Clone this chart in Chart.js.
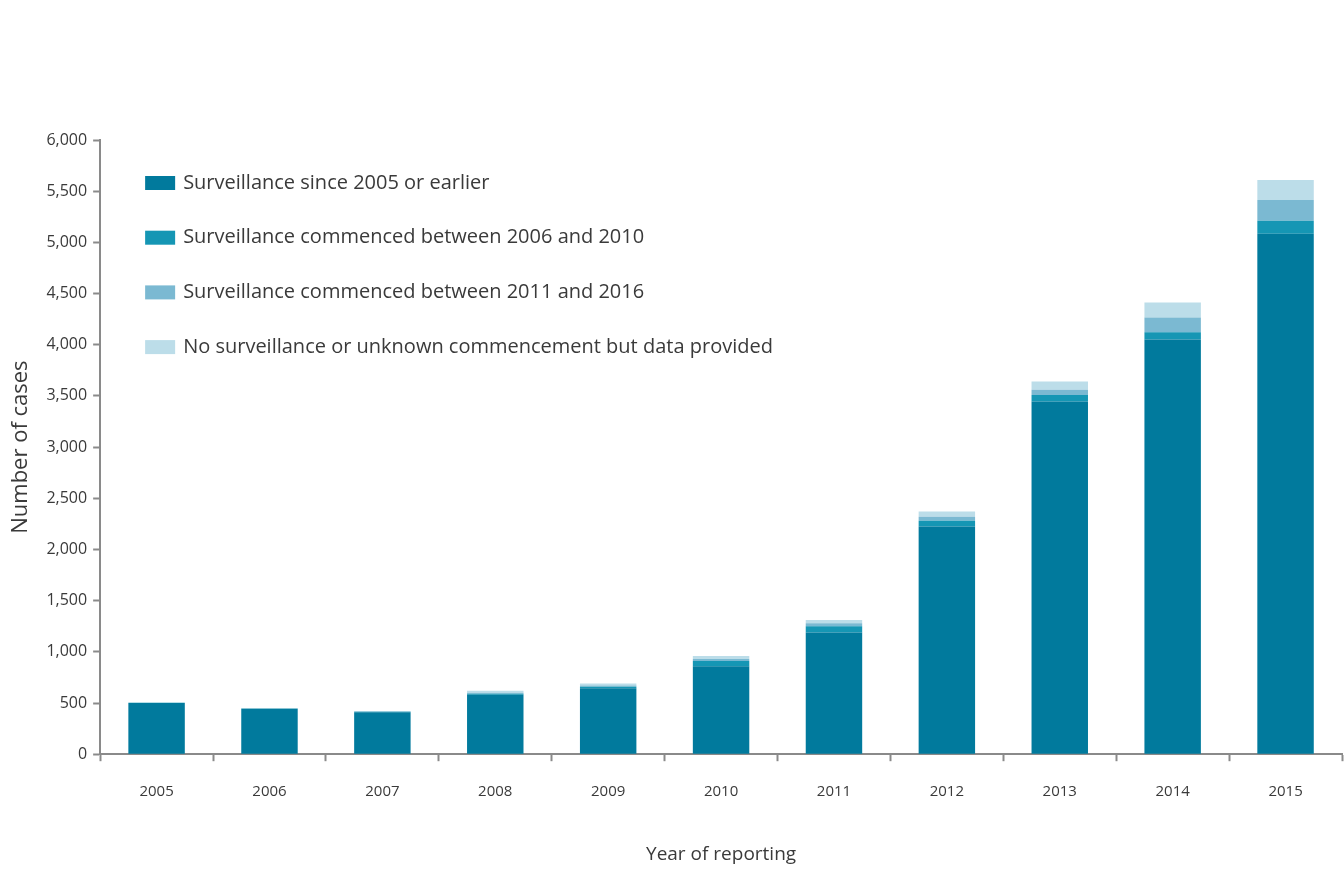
<!DOCTYPE html>
<html>
<head>
<meta charset="utf-8">
<script src="https://cdn.jsdelivr.net/npm/chart.js@4.4.0/dist/chart.umd.min.js"></script>
<style>
  html, body { margin: 0; padding: 0; background: #fff; }
  #wrap { width: 1344px; height: 873px; }
</style>
</head>
<body>
<div id="wrap"><canvas id="chart"></canvas></div>
<script>
const years = ['2005', '2006', '2007', '2008', '2009', '2010', '2011', '2012', '2013', '2014', '2015'];
const since2005 = [500, 445, 410, 580, 645, 860, 1190, 2225, 3445, 4050, 5085];
const from2006to2010 = [3, 2, 5, 10, 15, 50, 60, 55, 65, 72, 125];
const from2011to2016 = [0, 0, 2, 10, 10, 20, 30, 40, 50, 145, 205];
const noSurveillance = [3, 3, 5, 20, 20, 30, 30, 50, 80, 145, 195];
const yTicks = [0, 500, 1000, 1500, 2000, 2500, 3000, 3500, 4000, 4500, 5000, 5500, 6000];

const axisGrey = '#8a8a8a';
const textGrey = '#3a3a3a';
const fontFamily = "'Open Sans', 'DejaVu Sans', sans-serif";

// legend drawn inside the plot, top left, one entry per row
const insideLegend = {
    id: 'insideLegend',
    afterDraw(chart) {
        const ctx = chart.ctx;
        const area = chart.chartArea;
        ctx.save();
        ctx.font = '20px ' + fontFamily;
        ctx.textBaseline = 'middle';
        ctx.textAlign = 'left';
        chart.data.datasets.forEach((ds, i) => {
            const y = area.top + 43 + i * 54.7;
            ctx.fillStyle = ds.backgroundColor;
            ctx.fillRect(area.left + 45, y - 7, 30, 14);
            ctx.fillStyle = textGrey;
            ctx.fillText(ds.label, area.left + 83, y);
        });
        ctx.restore();
    }
};

new Chart(document.getElementById('chart'), {
    type: 'bar',
    data: {
        labels: years,
        datasets: [
            { label: 'Surveillance since 2005 or earlier', data: since2005, backgroundColor: '#017a9d' },
            { label: 'Surveillance commenced between 2006 and 2010', data: from2006to2010, backgroundColor: '#1596b4' },
            { label: 'Surveillance commenced between 2011 and 2016', data: from2011to2016, backgroundColor: '#7bb9d2' },
            { label: 'No surveillance or unknown commencement but data provided', data: noSurveillance, backgroundColor: '#bcdde9' }
        ]
    },
    plugins: [insideLegend],
    options: {
        responsive: true,
        maintainAspectRatio: false,
        animation: false,
        datasets: {
            bar: { categoryPercentage: 1, barPercentage: 0.5 }
        },
        layout: { padding: { top: 140, left: 4, right: 2, bottom: 3 } },
        plugins: {
            tooltip: { enabled: false },
            legend: { display: false }
        },
        scales: {
            x: {
                stacked: true,
                grid: { display: true, drawOnChartArea: false, offset: true, color: axisGrey, tickLength: 7, tickWidth: 2 },
                border: { color: axisGrey, width: 2 },
                ticks: { color: textGrey, padding: 22, font: { family: fontFamily, size: 15 } },
                title: {
                    display: true,
                    text: 'Year of reporting',
                    color: textGrey,
                    padding: { top: 20 },
                    font: { family: fontFamily, size: 19 }
                }
            },
            y: {
                stacked: true,
                min: 0,
                max: 6000,
                afterBuildTicks: (axis) => { axis.ticks = yTicks.map(v => ({ value: v })); },
                grid: { display: true, drawOnChartArea: false, color: axisGrey, tickLength: 7, tickWidth: 2 },
                border: { color: axisGrey, width: 2 },
                ticks: {
                    color: textGrey,
                    padding: 6,
                    font: { family: fontFamily, size: 16 },
                    callback: (v) => v.toLocaleString('en-US')
                },
                title: {
                    display: true,
                    text: 'Number of cases',
                    color: textGrey,
                    padding: { bottom: 6 },
                    font: { family: fontFamily, size: 22 }
                }
            }
        }
    }
});
</script>
</body>
</html>
